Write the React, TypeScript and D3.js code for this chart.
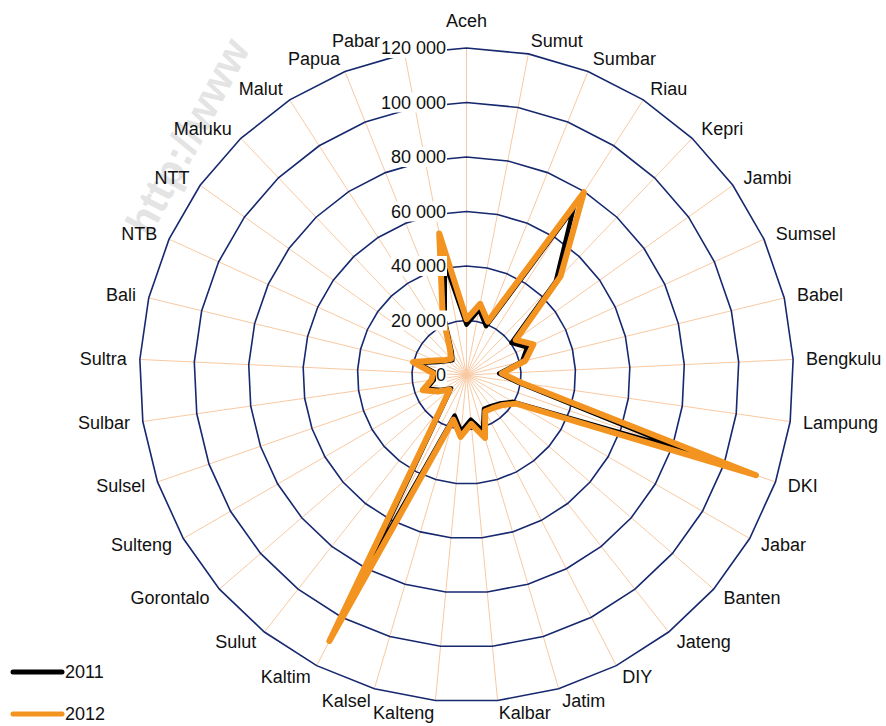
import React from "react";
import * as d3 from "d3";

// Provinces, clockwise from the top
const categories = [
  "Aceh", "Sumut", "Sumbar", "Riau", "Kepri", "Jambi", "Sumsel", "Babel",
  "Bengkulu", "Lampung", "DKI", "Jabar", "Banten", "Jateng", "DIY", "Jatim",
  "Kalbar", "Kalteng", "Kalsel", "Kaltim", "Sulut", "Gorontalo", "Sulteng",
  "Sulsel", "Sulbar", "Sultra", "Bali", "NTB", "NTT", "Maluku", "Malut",
  "Papua", "Pabar",
];

const values2011 = [
  18500, 24500, 19300, 72600, 47500, 20300, 24500, 21000,
  12000, 19000, 86900, 19700, 16000, 14500, 14000, 21500,
  16500, 20800, 15500, 84700, 13500, 7500, 11000,
  15500, 12000, 11000, 18500, 11500, 8800, 7500, 10000,
  21500, 42000,
];

const values2012 = [
  20500, 26600, 21100, 79700, 50000, 22200, 27000, 22200,
  13000, 20600, 112400, 21000, 17000, 15500, 15000, 24100,
  18000, 22800, 17100, 109800, 14500, 8200, 12100,
  17000, 13000, 12200, 20200, 12800, 9500, 8200, 11200,
  23500, 52900,
];

const tickValues = [0, 20000, 40000, 60000, 80000, 100000, 120000];
const seriesNames = ["2011", "2012"];

const W = 886;
const H = 726;
const cx = 466.5;
const cy = 375;
const R = 327;
const font = "'Liberation Sans', Arial, sans-serif";
const gridColor = "#16286e";
const spokeColor = "#f8c9a2";
const colors = ["#000000", "#f39320"];

const fmt = (v: number) => d3.format(",")(v).replace(/,/g, " ");

export default function App() {
  const n = categories.length;
  const angle = d3
    .scaleLinear()
    .domain([0, n])
    .range([0, 2 * Math.PI]);
  const r = d3.scaleLinear().domain([0, 120000]).range([0, R]);

  const radial = d3
    .lineRadial<number>()
    .angle((_, i) => angle(i))
    .radius((d) => r(d))
    .curve(d3.curveLinearClosed);

  const rings = tickValues.slice(1).map((t) => categories.map(() => t));
  const series = [values2011, values2012];

  const pt = (i: number, rad: number) => {
    const a = angle(i);
    return [cx + rad * Math.sin(a), cy - rad * Math.cos(a)];
  };

  return (
    <svg
      width={W}
      height={H}
      style={{ position: "absolute", left: 0, top: 0, background: "#fff" }}
      fontFamily={font}
    >
      <rect width={W} height={H} fill="#fff" />
      <text
        x={0}
        y={0}
        transform="translate(150,238) rotate(-62)"
        fontSize={42}
        fontWeight="bold"
        fill="#e4e4e4"
      >
        http://www
      </text>
      {/* spokes */}
      <g>
        {categories.map((c, i) => {
          const [x, y] = pt(i, R);
          return (
            <line
              key={c}
              x1={cx}
              y1={cy}
              x2={x}
              y2={y}
              stroke={spokeColor}
              strokeWidth={1}
            />
          );
        })}
      </g>
      {/* polygon rings */}
      <g transform={`translate(${cx},${cy})`}>
        {rings.map((ring, k) => (
          <path
            key={k}
            d={radial(ring) || ""}
            fill="none"
            stroke={gridColor}
            strokeWidth={1.6}
          />
        ))}
      </g>
      {/* series */}
      <g transform={`translate(${cx},${cy})`}>
        {series.map((s, k) => (
          <path
            key={k}
            d={radial(s) || ""}
            fill="none"
            stroke={colors[k]}
            strokeWidth={k === 0 ? 4.5 : 6}
            strokeLinejoin="round"
            strokeLinecap="round"
          />
        ))}
      </g>
      {/* category labels */}
      <g fontSize={18} fill="#111">
        {categories.map((c, i) => {
          const a = angle(i);
          const s = Math.sin(a);
          const co = Math.cos(a);
          const [x, y] = pt(i, 340);
          let anchor = "middle";
          if (s > 0.05) anchor = "start";
          else if (s < -0.05) anchor = "end";
          const yy = Math.abs(s) < 0.05 ? y - co * 14 : y;
          // keep the label next to the top axis clear of the tick text
          const xx = s < -0.05 && s > -0.25 && co > 0 ? Math.min(x, 380) : x;
          return (
            <text
              key={c}
              x={xx}
              y={yy}
              textAnchor={anchor}
              dominantBaseline="central"
            >
              {c}
            </text>
          );
        })}
      </g>
      {/* radial axis labels */}
      <g fontSize={18} fill="#111">
        {tickValues.map((t) => {
          const label = fmt(t);
          const w = label.length * 10 - (label.includes(" ") ? 5 : 0);
          const y = cy - r(t);
          return (
            <g key={t}>
              <rect x={446 - w} y={y - 10} width={w + 1} height={20} fill="#fff" />
              <text x={446} y={y} textAnchor="end" dominantBaseline="central">
                {label}
              </text>
            </g>
          );
        })}
      </g>
      {/* legend */}
      <g fontSize={18} fill="#111">
        {seriesNames.map((nme, k) => {
          const y = 672 + k * 42;
          return (
            <g key={nme}>
              <line
                x1={13}
                x2={62}
                y1={y}
                y2={y}
                stroke={colors[k]}
                strokeWidth={5}
                strokeLinecap="round"
              />
              <text x={65} y={y} dominantBaseline="central">
                {nme}
              </text>
            </g>
          );
        })}
      </g>
    </svg>
  );
}
